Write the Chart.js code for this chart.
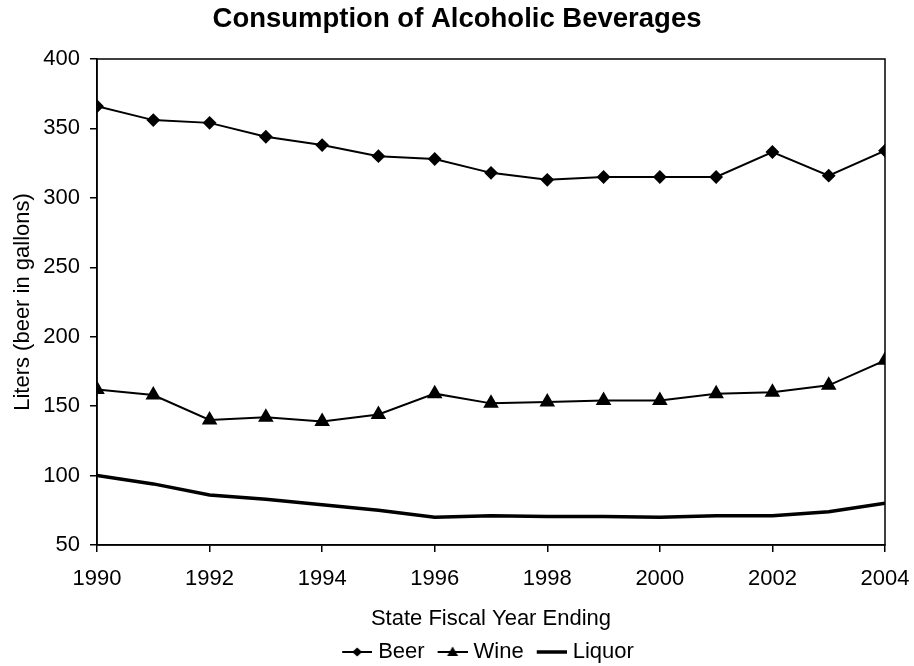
<!DOCTYPE html>
<html>
<head>
<meta charset="utf-8">
<script src="https://cdn.jsdelivr.net/npm/chart.js@4.4.1/dist/chart.umd.min.js"></script>
<style>
  html, body { margin: 0; padding: 0; background: #fff; }
  #c { display: block; }
</style>
</head>
<body>
<canvas id="c" width="914" height="666"></canvas>
<script>
// Fiscal years and per-beverage consumption
const years  = [1990, 1991, 1992, 1993, 1994, 1995, 1996, 1997, 1998, 1999, 2000, 2001, 2002, 2003, 2004];
const beer   = [366, 356, 354, 344, 338, 330, 328, 318, 313, 315, 315, 315, 333, 316, 334];
const wine   = [162, 158, 140, 142, 139, 144, 159, 152, 153, 154, 154, 159, 160, 165, 183];
const liquor = [100, 94, 86, 83, 79, 75, 70, 71, 70.5, 70.5, 70, 71, 71, 74, 80];
const yTicks = [50, 100, 150, 200, 250, 300, 350, 400];

const FONT = "'Liberation Sans', Arial, sans-serif";

function pts(vals) { return vals.map((v, i) => ({ x: years[i], y: v })); }

// Legend swatches: a short line with the series marker on it.
// The drawing sits in the right part of the image so the item gap
// and the gap to the label come out right.
function swatch(kind) {
  const cv = document.createElement('canvas');
  cv.width = 43; cv.height = 16;
  const g = cv.getContext('2d');
  g.strokeStyle = '#000'; g.fillStyle = '#000';
  g.lineWidth = kind === 'liquor' ? 3.5 : 2;
  g.beginPath(); g.moveTo(13, 8); g.lineTo(43, 8); g.stroke();
  const cx = 28;
  if (kind === 'beer') {
    g.beginPath(); g.moveTo(cx, 3.5); g.lineTo(cx + 5, 8); g.lineTo(cx, 12.5); g.lineTo(cx - 5, 8); g.closePath(); g.fill();
  } else if (kind === 'wine') {
    g.beginPath(); g.moveTo(cx, 2.5); g.lineTo(cx + 5.5, 12); g.lineTo(cx - 5.5, 12); g.closePath(); g.fill();
  }
  return cv;
}
const swatches = { Beer: swatch('beer'), Wine: swatch('wine'), Liquor: swatch('liquor') };

// Full frame around the plot area
const frame = {
  id: 'frame',
  afterDatasetsDraw(chart) {
    const a = chart.chartArea, g = chart.ctx;
    g.save();
    g.strokeStyle = '#000'; g.lineWidth = 1.5;
    g.strokeRect(a.left, a.top, a.right - a.left, a.bottom - a.top);
    g.restore();
  }
};

// Nudge the legend row a little to the left of the plot's centre
const legendShift = {
  id: 'legendShift',
  afterLayout(chart) {
    if (chart.legend) { chart.legend.left -= 7; chart.legend.right -= 7; }
  }
};

new Chart(document.getElementById('c'), {
  type: 'line',
  data: {
    datasets: [
      { label: 'Beer', data: pts(beer), borderColor: '#000', backgroundColor: '#000', borderWidth: 2,
        pointStyle: 'rectRot', pointRadius: 5.5, pointHoverRadius: 5.5, tension: 0 },
      { label: 'Wine', data: pts(wine), borderColor: '#000', backgroundColor: '#000', borderWidth: 2,
        pointStyle: 'triangle', pointRadius: 7, pointHoverRadius: 7, tension: 0 },
      { label: 'Liquor', data: pts(liquor), borderColor: '#000', backgroundColor: '#000', borderWidth: 3.5,
        pointRadius: 0, pointHoverRadius: 0, tension: 0 }
    ]
  },
  options: {
    responsive: false,
    animation: false,
    events: [],
    layout: { padding: 0 },
    plugins: {
      title: {
        display: true, text: 'Consumption of Alcoholic Beverages', color: '#000',
        font: { family: FONT, size: 27.5, weight: 'bold', lineHeight: 1.2 }, padding: { top: 3, bottom: 23 }
      },
      legend: {
        position: 'bottom',
        fullSize: false,
        maxHeight: 30,
        labels: {
          color: '#000', font: { family: FONT, size: 22 }, padding: 5,
          usePointStyle: true, pointStyleWidth: 33,
          generateLabels(chart) {
            return chart.data.datasets.map((d, i) => ({
              text: d.label, pointStyle: swatches[d.label], fillStyle: '#000',
              strokeStyle: '#000', lineWidth: 0, hidden: false, datasetIndex: i, fontColor: '#000'
            }));
          }
        }
      },
      tooltip: { enabled: false }
    },
    scales: {
      x: {
        type: 'linear', min: 1990, max: 2004,
        afterFit(axis) { axis.height = 91; axis.paddingLeft = 0; axis.paddingRight = 29; },
        ticks: { stepSize: 2, color: '#000', font: { family: FONT, size: 22 }, padding: 14,
                 maxRotation: 0, callback: v => String(v) },
        grid: { display: true, drawOnChartArea: false, drawTicks: true, tickLength: 7, color: '#000', lineWidth: 1.5 },
        border: { color: '#000', width: 1.5 },
        title: { display: true, text: 'State Fiscal Year Ending', color: '#000',
                 font: { family: FONT, size: 22, lineHeight: 1.2 }, padding: { top: 0, bottom: 4 } }
      },
      y: {
        type: 'linear', min: 50, max: 400,
        afterBuildTicks(axis) { axis.ticks = yTicks.map(v => ({ value: v })); },
        afterFit(axis) { axis.width = 97; },
        ticks: { color: '#000', font: { family: FONT, size: 22 }, padding: 10 },
        grid: { display: true, drawOnChartArea: false, drawTicks: true, tickLength: 7, color: '#000', lineWidth: 1.5 },
        border: { color: '#000', width: 1.5 },
        title: { display: true, text: 'Liters (beer in gallons)', color: '#000',
                 font: { family: FONT, size: 22, lineHeight: 1.2 }, padding: { top: 10, bottom: 0 } }
      }
    }
  },
  plugins: [frame, legendShift]
});
</script>
</body>
</html>
